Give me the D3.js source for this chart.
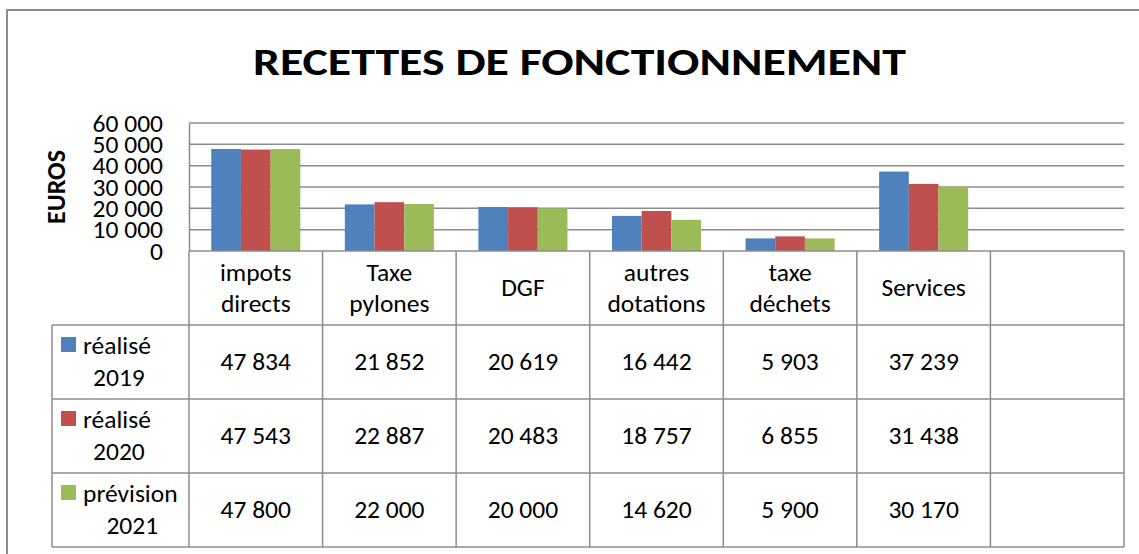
<!DOCTYPE html>
<html>
<head>
<meta charset="utf-8">
<script src="https://cdn.jsdelivr.net/npm/d3@7"></script>
<style>
    body { margin: 0; background: #ffffff; }
    svg { display: block; font-family: Carlito, Calibri, Lato, sans-serif; }
</style>
</head>
<body>
<div class="chartContainer"></div>
<script>
// 数据
const categories = ['impots\ndirects', 'Taxe\npylones', 'DGF', 'autres\ndotations', 'taxe\ndéchets', 'Services', ''];
const seriesNames = ['réalisé\n2019', 'réalisé\n2020', 'prévision\n2021'];
const values2019 = [47834, 21852, 20619, 16442, 5903, 37239];
const values2020 = [47543, 22887, 20483, 18757, 6855, 31438];
const values2021 = [47800, 22000, 20000, 14620, 5900, 30170];
const yTicks = [0, 10000, 20000, 30000, 40000, 50000, 60000];
const seriesColors = ['#4f81bd', '#c0504d', '#9bbb59'];

const seriesValues = [values2019, values2020, values2021];

const width = 1139, height = 554;
const plot = {left: 189, right: 1124, top: 123, bottom: 251};
const rowEdges = [251, 325, 399, 473, 547];
const tableLeft = 52;
const lineColor = '#8c8c8c';
const fontSize = 25.5;

const fmt = d3.formatLocale({decimal: ',', thousands: ' ', grouping: [3], currency: ['', ' €']}).format(',');

const svg = d3.select('.chartContainer')
    .append('svg')
    .attr('width', width)
    .attr('height', height);

// 外框
svg.append('path')
    .attr('d', `M7,${height} V10 H${width}`)
    .attr('fill', 'none')
    .attr('stroke', lineColor)
    .attr('stroke-width', 2);

// 标题
svg.append('text')
    .attr('x', 579.5)
    .attr('y', 75)
    .attr('text-anchor', 'middle')
    .attr('font-size', 39)
    .attr('font-weight', 'bold')
    .attr('textLength', 653)
    .attr('lengthAdjust', 'spacingAndGlyphs')
    .text('RECETTES DE FONCTIONNEMENT');

// 比例尺
const x = d3.scaleBand()
    .domain(categories)
    .range([plot.left, plot.right])
    .padding(0);
const xInner = d3.scaleBand()
    .domain(d3.range(seriesNames.length))
    .range([0, x.bandwidth()])
    .paddingInner(0)
    .paddingOuter(0.75);
const y = d3.scaleLinear()
    .domain([0, 60000])
    .range([plot.bottom, plot.top]);

// 网格线
svg.append('g')
    .selectAll('line')
    .data(yTicks.filter(d => d > 0))
    .join('line')
    .attr('x1', plot.left)
    .attr('x2', plot.right)
    .attr('y1', d => y(d))
    .attr('y2', d => y(d))
    .attr('stroke', lineColor)
    .attr('stroke-width', 1.5);

// Y 轴
const yAxis = svg.append('g')
    .attr('transform', `translate(${plot.left},0)`)
    .call(d3.axisLeft(y).tickValues(yTicks).tickFormat(fmt).tickSize(0).tickPadding(26));
yAxis.select('.domain').attr('stroke', lineColor).attr('stroke-width', 1.5);
yAxis.selectAll('text')
    .attr('font-size', fontSize)
    .attr('font-family', 'Carlito, Calibri, Lato, sans-serif')
    .attr('fill', '#000');

svg.append('text')
    .attr('transform', `translate(65,${(plot.top + plot.bottom) / 2}) rotate(-90)`)
    .attr('text-anchor', 'middle')
    .attr('font-size', 26)
    .attr('font-weight', 'bold')
    .text('EUROS');

// 柱子
const groups = svg.append('g')
    .selectAll('g')
    .data(categories.slice(0, values2019.length))
    .join('g')
    .attr('transform', d => `translate(${x(d)},0)`);
groups.selectAll('rect')
    .data((d, i) => seriesValues.map((vals, s) => ({s, v: vals[i]})))
    .join('rect')
    .attr('x', d => xInner(d.s))
    .attr('width', xInner.bandwidth())
    .attr('y', d => y(d.v))
    .attr('height', d => y(0) - y(d.v))
    .attr('fill', d => seriesColors[d.s]);

// 数据表
const table = svg.append('g');
const hLine = (yy, x1) => table.append('line')
    .attr('x1', x1).attr('x2', plot.right)
    .attr('y1', yy).attr('y2', yy)
    .attr('stroke', lineColor).attr('stroke-width', 1.5);
hLine(rowEdges[0], plot.left);
rowEdges.slice(1).forEach(r => hLine(r, tableLeft));

// 竖线
[...categories.map(c => x(c)), plot.right].forEach(xx => {
    table.append('line')
        .attr('x1', xx).attr('x2', xx)
        .attr('y1', rowEdges[0]).attr('y2', rowEdges[rowEdges.length - 1])
        .attr('stroke', lineColor).attr('stroke-width', 1.5);
});
table.append('line')
    .attr('x1', tableLeft).attr('x2', tableLeft)
    .attr('y1', rowEdges[1]).attr('y2', rowEdges[rowEdges.length - 1])
    .attr('stroke', lineColor).attr('stroke-width', 1.5);

// 多行居中文字
function multiLine(g, lines, cx, cy) {
    const gap = 31;
    const t = g.append('text')
        .attr('text-anchor', 'middle')
        .attr('font-size', fontSize);
    lines.forEach((ln, i) => {
        t.append('tspan')
            .attr('x', cx)
            .attr('y', cy + 8 + (i - (lines.length - 1) / 2) * gap)
            .text(ln);
    });
}

// 表头
categories.forEach(c => {
    if (c) multiLine(table, c.split('\n'), x(c) + x.bandwidth() / 2, (rowEdges[0] + rowEdges[1]) / 2);
});

// 数据行
seriesNames.forEach((name, s) => {
    const cy = (rowEdges[s + 1] + rowEdges[s + 2]) / 2;
    seriesValues[s].forEach((v, i) => {
        table.append('text')
            .attr('x', x(categories[i]) + x.bandwidth() / 2)
            .attr('y', cy + 8)
            .attr('text-anchor', 'middle')
            .attr('font-size', fontSize)
            .text(fmt(v));
    });

    // 图例
    const [l1, l2] = name.split('\n');
    table.append('rect')
        .attr('x', 61).attr('y', cy - 25)
        .attr('width', 15).attr('height', 15)
        .attr('fill', seriesColors[s]);
    const t1 = table.append('text')
        .attr('x', 83).attr('y', cy - 8)
        .attr('font-size', fontSize)
        .text(l1);
    const w1 = t1.node().getComputedTextLength();
    table.append('text')
        .attr('x', 83 + w1 / 2 + 2).attr('y', cy + 24)
        .attr('text-anchor', 'middle')
        .attr('font-size', fontSize)
        .text(l2);
});
</script>
</body>
</html>
